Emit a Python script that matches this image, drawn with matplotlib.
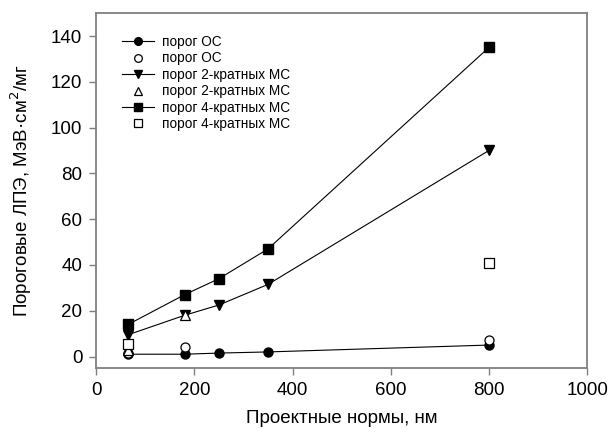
import matplotlib.pyplot as plt

plt.rcParams["font.family"] = ["Liberation Sans", "DejaVu Sans"]

# design rule, nm
nodes = [65, 180, 250, 350, 800]
oc_fit = [1.0, 1.0, 1.5, 2.0, 5.0]
ms2_fit = [9.5, 18.0, 22.5, 31.5, 90.0]
ms4_fit = [14.0, 27.0, 34.0, 47.0, 135.0]

oc_x = [65, 180, 800]
oc_meas = [1.5, 4.0, 7.0]
ms2_x = [65, 180]
ms2_meas = [2.8, 18.0]
ms4_x = [65, 800]
ms4_meas = [5.5, 41.0]

fig = plt.figure(figsize=(6.09, 4.37), dpi=100)
ax = fig.add_axes([0.158, 0.158, 0.806, 0.812])

line_kw = dict(color="black", lw=0.8, markersize=6.5)
open_kw = dict(ls="none", markerfacecolor="white", markeredgecolor="black",
               markeredgewidth=0.9, markersize=6.5)

ax.plot(nodes, oc_fit, marker="o", label="порог ОС", **line_kw)
ax.plot(oc_x, oc_meas, marker="o", label="порог ОС", **open_kw)
ax.plot(nodes, ms2_fit, marker="v", label="порог 2-кратных МС", **line_kw)
ax.plot(ms2_x, ms2_meas, marker="^", label="порог 2-кратных МС", **open_kw)
ax.plot(nodes, ms4_fit, marker="s", label="порог 4-кратных МС", **line_kw)
ax.plot(ms4_x, ms4_meas, marker="s", label="порог 4-кратных МС", **open_kw)

ax.set_xlim(0, 1000)
ax.set_ylim(-5, 150)
ax.set_xticks(range(0, 1001, 200))
ax.set_yticks(range(0, 141, 20))

for sp in ax.spines.values():
    sp.set_color("#808080")
    sp.set_linewidth(1.3)
ax.tick_params(direction="out", length=5, width=1, color="#808080",
               labelsize=13.5, pad=5)

ax.set_xlabel("Проектные нормы, нм", fontsize=13.5, labelpad=8)
ax.set_ylabel("Пороговые ЛПЭ, МэВ·см$^2$/мг", fontsize=13.5, labelpad=12)

ax.legend(loc="upper left", bbox_to_anchor=(0.028, 0.973), frameon=False,
          fontsize=9.8, handlelength=2.3, labelspacing=0.18,
          handletextpad=0.6, markerscale=0.85)

fig.savefig("out.png", dpi=100)
